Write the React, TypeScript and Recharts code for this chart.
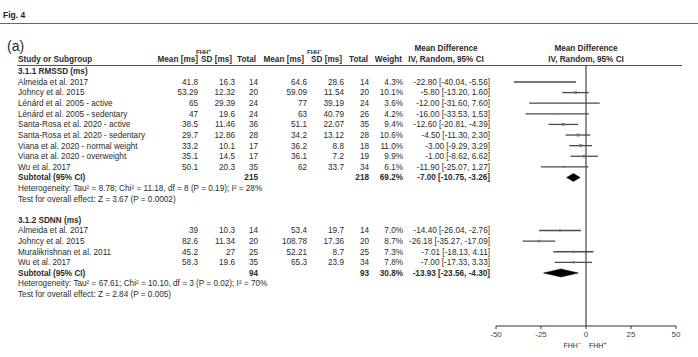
import React from 'react';
import { ScatterChart, Scatter, XAxis, YAxis, ErrorBar } from 'recharts';

const sectionTitles = ['3.1.1 RMSSD (ms)', '3.1.2 SDNN (ms)'];
const studyNames = [
  'Almeida et al. 2017',
  'Johncy et al. 2015',
  'Lénárd et al. 2005 - active',
  'Lénárd et al. 2005 - sedentary',
  'Santa-Rosa et al. 2020 - active',
  'Santa-Rosa et al. 2020 - sedentary',
  'Viana et al. 2020 - normal weight',
  'Viana et al. 2020 - overweight',
  'Wu et al. 2017',
  'Almeida et al. 2017',
  'Johncy et al. 2015',
  'Muralikrishnan et al. 2011',
  'Wu et al. 2017',
];
const studySection = [0, 0, 0, 0, 0, 0, 0, 0, 0, 1, 1, 1, 1];
const meanPos = [41.8, 53.29, 65, 47, 38.5, 29.7, 33.2, 35.1, 50.1, 39, 82.6, 45.2, 58.3];
const sdPos = [16.3, 12.32, 29.39, 19.6, 11.46, 12.86, 10.1, 14.5, 20.3, 10.3, 11.34, 27, 19.6];
const totalPos = [14, 20, 24, 24, 36, 28, 17, 17, 35, 14, 20, 25, 35];
const meanNeg = [64.6, 59.09, 77, 63, 51.1, 34.2, 36.2, 36.1, 62, 53.4, 108.78, 52.21, 65.3];
const sdNeg = [28.6, 11.54, 39.19, 40.79, 22.07, 13.12, 8.8, 7.2, 33.7, 19.7, 17.36, 8.7, 23.9];
const totalNeg = [14, 20, 24, 26, 35, 28, 18, 19, 34, 14, 20, 25, 34];
const weights = [4.3, 10.1, 3.6, 4.2, 9.4, 10.6, 11.0, 9.9, 6.1, 7.0, 8.7, 7.3, 7.8];
const meanDiff = [-22.8, -5.8, -12, -16, -12.6, -4.5, -3, -1, -11.9, -14.4, -26.18, -7.01, -7.0];
const ciLow = [-40.04, -13.2, -31.6, -33.53, -20.81, -11.3, -9.29, -8.62, -25.07, -26.04, -35.27, -18.13, -17.33];
const ciHigh = [-5.56, 1.6, 7.6, 1.53, -4.39, 2.3, 3.29, 6.62, 1.27, -2.76, -17.09, 4.11, 3.33];
const subTotalPos = [215, 94];
const subTotalNeg = [218, 93];
const subWeight = [69.2, 30.8];
const subMeanDiff = [-7.0, -13.93];
const subLow = [-10.75, -23.56];
const subHigh = [-3.26, -4.3];
const heterogeneityText = [
  'Heterogeneity: Tau² = 8.78; Chi² = 11.18, df = 8 (P = 0.19); I² = 28%',
  'Heterogeneity: Tau² = 67.61; Chi² = 10.10, df = 3 (P = 0.02); I² = 70%',
];
const overallEffectText = [
  'Test for overall effect: Z = 3.67 (P = 0.0002)',
  'Test for overall effect: Z = 2.84 (P = 0.005)',
];
const xTicks = [-50, -25, 0, 25, 50];
const nullEffect = 0;

type Row = { kind: string; label?: string; study?: number; section?: number };
const rows: Row[] = [];
sectionTitles.forEach((t, s) => {
  if (s > 0) rows.push({ kind: 'blank' });
  rows.push({ kind: 'section', label: t });
  studyNames.forEach((_, i) => {
    if (studySection[i] === s) rows.push({ kind: 'study', study: i });
  });
  rows.push({ kind: 'subtotal', section: s });
  rows.push({ kind: 'het', section: s });
  rows.push({ kind: 'test', section: s });
});

const fmtCI = (m: number, lo: number, hi: number) => `${m.toFixed(2)} [${lo.toFixed(2)}, ${hi.toFixed(2)}]`;

const studyPoints = rows
  .map((r, idx) => ({ r, idx }))
  .filter((o) => o.r.kind === 'study')
  .map((o) => {
    const i = o.r.study as number;
    return { x: meanDiff[i], y: o.idx, err: [meanDiff[i] - ciLow[i], ciHigh[i] - meanDiff[i]], w: weights[i] };
  });

const DIAMOND_HALF = 0.38;
const diamonds = rows
  .map((r, idx) => ({ r, idx }))
  .filter((o) => o.r.kind === 'subtotal')
  .map((o) => {
    const s = o.r.section as number;
    return [
      { x: subLow[s], y: o.idx },
      { x: subMeanDiff[s], y: o.idx - DIAMOND_HALF },
      { x: subHigh[s], y: o.idx },
      { x: subMeanDiff[s], y: o.idx + DIAMOND_HALF },
    ];
  });

const Y_DOMAIN: [number, number] = [-0.6, 24];
const zeroLine = [
  { x: nullEffect, y: Y_DOMAIN[0] },
  { x: nullEffect, y: Y_DOMAIN[1] },
];

const rowTicks = rows.map((_, i) => i);

const FONT = 'Liberation Sans, Arial, Helvetica, sans-serif';
const TXT = '#2b2b2b';
const FS = 8.2;

const COL = { name: 18, mp: 198, sp: 235, tp: 258, mn: 307, sn: 344, tn: 369, w: 403, ci: 490 };

const RowTick = (props: any) => {
  const { y, payload } = props;
  const r = rows[payload.value];
  if (!r) return null;
  const base = { y, dy: '0.35em', fontSize: FS, fontFamily: FONT, fill: TXT } as any;
  const cell = (x: number, text: string | number, anchor = 'end', bold = false) => (
    <text {...base} x={x} textAnchor={anchor} fontWeight={bold ? 'bold' : 'normal'}>
      {text}
    </text>
  );
  if (r.kind === 'section') return <g>{cell(COL.name, r.label as string, 'start', true)}</g>;
  if (r.kind === 'study') {
    const i = r.study as number;
    return (
      <g>
        {cell(COL.name, studyNames[i], 'start')}
        {cell(COL.mp, meanPos[i])}
        {cell(COL.sp, sdPos[i])}
        {cell(COL.tp, totalPos[i])}
        {cell(COL.mn, meanNeg[i])}
        {cell(COL.sn, sdNeg[i])}
        {cell(COL.tn, totalNeg[i])}
        {cell(COL.w, `${weights[i].toFixed(1)}%`)}
        {cell(COL.ci, fmtCI(meanDiff[i], ciLow[i], ciHigh[i]))}
      </g>
    );
  }
  if (r.kind === 'subtotal') {
    const s = r.section as number;
    return (
      <g>
        {cell(COL.name, 'Subtotal (95% CI)', 'start', true)}
        {cell(COL.tp, subTotalPos[s], 'end', true)}
        {cell(COL.tn, subTotalNeg[s], 'end', true)}
        {cell(COL.w, `${subWeight[s].toFixed(1)}%`, 'end', true)}
        {cell(COL.ci, fmtCI(subMeanDiff[s], subLow[s], subHigh[s]), 'end', true)}
      </g>
    );
  }
  if (r.kind === 'het') return <g>{cell(COL.name, heterogeneityText[r.section as number], 'start')}</g>;
  if (r.kind === 'test') return <g>{cell(COL.name, overallEffectText[r.section as number], 'start')}</g>;
  return null;
};

const fhh = (x: number, y: number, sign: string, anchor: string, size: number, bold: boolean, key: string) => (
  <text key={key} x={x} y={y} textAnchor={anchor as any} fontSize={size} fontFamily={FONT} fill={TXT} fontWeight={bold ? 'bold' : 'normal'}>
    FHH
    <tspan fontSize={size * 0.75} dy={-size * 0.4}>
      {sign}
    </tspan>
  </text>
);

const h = { fontSize: FS, fontFamily: FONT, fill: TXT, fontWeight: 'bold' } as any;
const headerElements = (
  <g className="forest-header">
    <text x={3} y={18} fontSize={8.5} fontWeight="bold" fontFamily={FONT} fill="#222">
      Fig. 4
    </text>
    <line x1={0} x2={698} y1={23.5} y2={23.5} stroke="#666" strokeWidth={1} />
    <text x={7} y={51} fontSize={14} fontFamily={FONT} fill={TXT}>
      (a)
    </text>
    {fhh(196, 54, '+', 'start', 6, true, 'f1')}
    {fhh(307, 54, '−', 'start', 6, true, 'f2')}
    <text {...h} x={18} y={62}>Study or Subgroup</text>
    <text {...h} x={198} y={62} textAnchor="end">Mean [ms]</text>
    <text {...h} x={232} y={62} textAnchor="end">SD [ms]</text>
    <text {...h} x={256} y={62} textAnchor="end">Total</text>
    <text {...h} x={304} y={62} textAnchor="end">Mean [ms]</text>
    <text {...h} x={342} y={62} textAnchor="end">SD [ms]</text>
    <text {...h} x={368} y={62} textAnchor="end">Total</text>
    <text {...h} x={402} y={62} textAnchor="end">Weight</text>
    <text {...h} x={446} y={51} textAnchor="middle">Mean Difference</text>
    <text {...h} x={446} y={62} textAnchor="middle">IV, Random, 95% CI</text>
    <text {...h} x={586} y={51} textAnchor="middle">Mean Difference</text>
    <text {...h} x={586} y={62} textAnchor="middle">IV, Random, 95% CI</text>
    <line x1={17} x2={682} y1={65.5} y2={65.5} stroke="#555" strokeWidth={1} />
    {fhh(581, 348, '−', 'end', 7, false, 'f3')}
    {fhh(589, 348, '+', 'start', 7, false, 'f4')}
  </g>
);

export default function App() {
  return (
    <div style={{ position: 'absolute', left: 0, top: 0, width: 698, height: 357, background: '#fff' }}>
      <ScatterChart width={698} height={357} margin={{ top: 65, right: 22, bottom: 11, left: 0 }}>
        <XAxis
          type="number"
          dataKey="x"
          domain={[-50, 50]}
          ticks={xTicks}
          interval={0}
          height={20}
          tickSize={3}
          axisLine={{ stroke: '#333', strokeWidth: 1.2 }}
          tickLine={{ stroke: '#333', strokeWidth: 1 }}
          tick={{ fontSize: 8, fontFamily: FONT, fill: '#444' }}
        />
        <YAxis
          type="number"
          dataKey="y"
          domain={Y_DOMAIN}
          reversed
          ticks={rowTicks}
          interval={0}
          width={496}
          axisLine={false}
          tickLine={false}
          tick={<RowTick />}
        />
        <Scatter
          data={zeroLine}
          isAnimationActive={false}
          shape={() => <g />}
          line={(lp: any) => {
            const pts = lp.points || [];
            if (pts.length < 2) return <g />;
            return <line x1={pts[0].x} y1={pts[0].y} x2={pts[1].x} y2={pts[1].y} stroke="#444" strokeWidth={1.2} />;
          }}
        />
        <Scatter
          data={studyPoints}
          isAnimationActive={false}
          shape={(p: any) => {
            const s = 1 + p.payload.w * 0.18;
            return <rect x={p.cx - s / 2} y={p.cy - s / 2} width={s} height={s} fill="#777" />;
          }}
        >
          <ErrorBar dataKey="err" direction="x" width={0} stroke="#4a4a4a" strokeWidth={1.3} isAnimationActive={false} />
        </Scatter>
        {diamonds.map((d, k) => (
          <Scatter
            key={k}
            data={d}
            isAnimationActive={false}
            shape={() => <g />}
            line={(lp: any) => (
              <polygon points={(lp.points || []).map((pt: any) => `${pt.x},${pt.y}`).join(' ')} fill="#000" stroke="#000" strokeWidth={0.5} />
            )}
          />
        ))}
        {headerElements}
      </ScatterChart>
    </div>
  );
}
